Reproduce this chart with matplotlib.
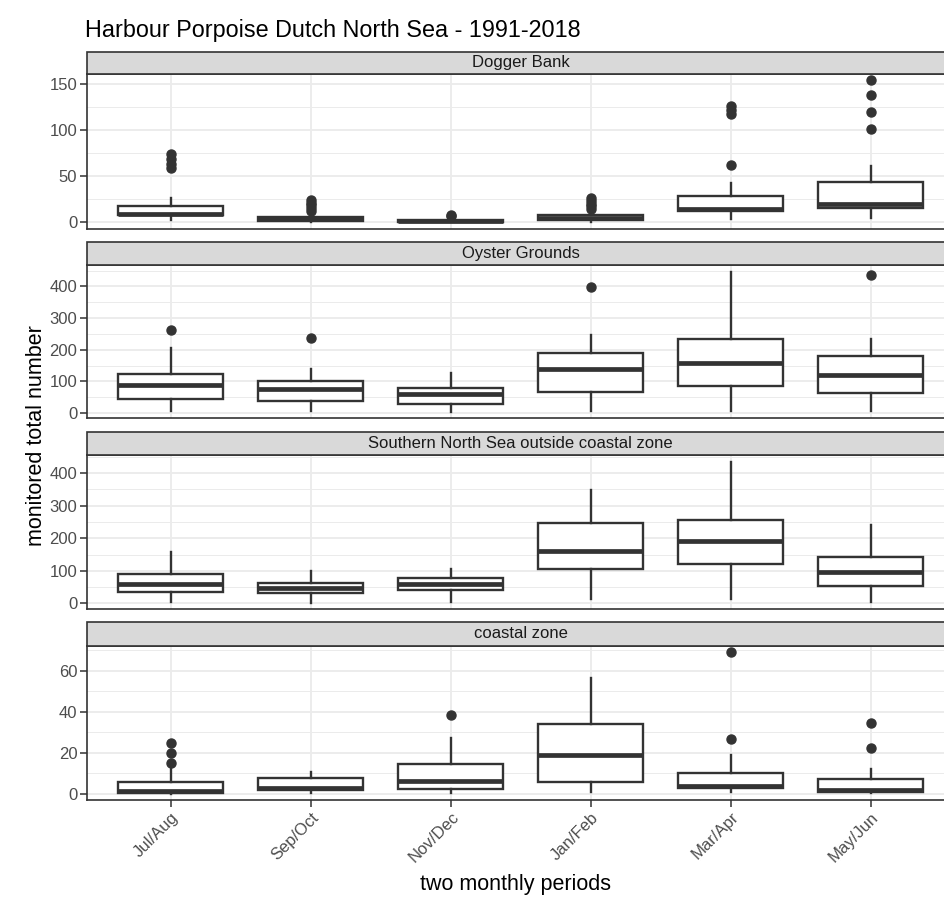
import matplotlib
matplotlib.use('Agg')
import matplotlib.pyplot as plt
from matplotlib.patches import Rectangle
from matplotlib.ticker import FixedLocator

plt.rcParams['font.family'] = ['Liberation Sans', 'DejaVu Sans']

periods = ['Jul/Aug', 'Sep/Oct', 'Nov/Dec', 'Jan/Feb', 'Mar/Apr', 'May/Jun']
regions = ['Dogger Bank', 'Oyster Grounds',
           'Southern North Sea outside coastal zone', 'coastal zone']

# Dogger Bank
dogger_q1 = [7, 1, 0, 2, 12, 15]
dogger_med = [9, 3, 1, 4, 14, 19]
dogger_q3 = [17, 5, 2, 7, 28, 43]
dogger_lo = [2, 0, 0, 0, 3, 4]
dogger_hi = [26, 10, 4, 11, 42, 61]
dogger_out = [[59, 63, 69, 74], [12, 15, 18, 21, 24], [6, 8],
              [14, 17, 20, 23, 26], [62, 118, 122, 126], [101, 120, 138, 154]]

# Oyster Grounds
oyster_q1 = [45, 38, 28, 66, 85, 64]
oyster_med = [89, 77, 60, 140, 157, 119]
oyster_q3 = [124, 101, 78, 191, 234, 180]
oyster_lo = [5, 5, 2, 7, 7, 7]
oyster_hi = [205, 139, 126, 247, 445, 235]
oyster_out = [[263], [238], [], [398], [], [436]]

# Southern North Sea outside coastal zone
south_q1 = [34, 32, 41, 107, 121, 53]
south_med = [58, 48, 60, 162, 193, 97]
south_q3 = [89, 63, 78, 246, 257, 142]
south_lo = [3, 2, 3, 12, 12, 5]
south_hi = [157, 100, 105, 347, 434, 241]
south_out = [[], [], [], [], [], []]

# coastal zone
coast_q1 = [0.3, 2, 2.3, 6, 2.8, 0.8]
coast_med = [1.5, 3, 6.5, 19, 3.9, 2]
coast_q3 = [5.7, 7.6, 14.4, 34.2, 10, 7.5]
coast_lo = [0, 0.5, 0.5, 0.8, 0.8, 0.3]
coast_hi = [12, 10.9, 27, 56.6, 19, 12]
coast_out = [[15.2, 19.8, 25], [], [38.3], [], [26.6, 69], [22.4, 34.7]]

panel_data = [
    (dogger_q1, dogger_med, dogger_q3, dogger_lo, dogger_hi, dogger_out),
    (oyster_q1, oyster_med, oyster_q3, oyster_lo, oyster_hi, oyster_out),
    (south_q1, south_med, south_q3, south_lo, south_hi, south_out),
    (coast_q1, coast_med, coast_q3, coast_lo, coast_hi, coast_out),
]
ylims = [(-7.7, 161), (-16, 468), (-17.5, 456), (-2.9, 72.2)]
major = [[0, 50, 100, 150], [0, 100, 200, 300, 400], [0, 100, 200, 300, 400], [0, 20, 40, 60]]
minor = [[25, 75, 125], [50, 150, 250, 350, 450], [50, 150, 250, 350, 450], [10, 30, 50, 70]]

W, H = 945, 899
fig = plt.figure(figsize=(W / 100, H / 100), dpi=100)

# (plot top, plot bottom, strip top) in pixels
geom = [(74, 229, 52), (265, 418, 241.5), (455, 609, 432), (645.5, 800, 622)]
left_px, right_px = 87, 945

dark = '#333333'
for i, (top, bot, stop) in enumerate(geom):
    ax = fig.add_axes([left_px / W, 1 - bot / H, (right_px - left_px) / W, (bot - top) / H])
    q1, med, q3, lo, hi, out = panel_data[i]
    stats = []
    for k in range(len(periods)):
        stats.append(dict(q1=q1[k], med=med[k], q3=q3[k], whislo=lo[k],
                          whishi=hi[k], fliers=out[k]))
    ax.bxp(stats, positions=range(1, len(periods) + 1), widths=0.75,
           showcaps=False, patch_artist=True,
           boxprops=dict(facecolor='white', edgecolor=dark, linewidth=1.7),
           medianprops=dict(color=dark, linewidth=3.4, solid_capstyle='butt'),
           whiskerprops=dict(color=dark, linewidth=1.7),
           flierprops=dict(marker='o', markerfacecolor=dark, markeredgecolor=dark,
                           markersize=6.5, linestyle='none'),
           zorder=3)
    ax.set_xlim(0.4, 6.53)
    ax.set_ylim(*ylims[i])
    ax.yaxis.set_major_locator(FixedLocator(major[i]))
    ax.yaxis.set_minor_locator(FixedLocator(minor[i]))
    ax.set_xticks(range(1, len(periods) + 1))
    ax.grid(True, which='major', color='#EBEBEB', linewidth=1.3, zorder=0)
    ax.grid(True, which='minor', axis='y', color='#EBEBEB', linewidth=0.7, zorder=0)
    ax.set_axisbelow(True)
    ax.tick_params(axis='y', which='minor', length=0)
    ax.tick_params(axis='both', which='major', length=5, width=1.1, color=dark,
                   labelsize=12, labelcolor='#4D4D4D', pad=2)
    for s in ax.spines.values():
        s.set_color(dark)
        s.set_linewidth(1.2)
    if i < 3:
        ax.tick_params(axis='x', which='major', length=0, labelbottom=False)
    else:
        ax.set_xticklabels(periods, rotation=45, ha='right', va='top',
                           rotation_mode='anchor')
        ax.set_xlabel('two monthly periods', fontsize=15.5, labelpad=6)
    # strip
    srect = Rectangle((left_px / W, 1 - top / H), (right_px - left_px) / W, (top - stop) / H,
                      transform=fig.transFigure, facecolor='#D9D9D9', edgecolor=dark,
                      linewidth=1.2, zorder=5)
    fig.patches.append(srect)
    fig.text((left_px + (870 + 84 - left_px) / 2) / W, 1 - (top + stop) / 2 / H, regions[i],
             ha='center', va='center', fontsize=12, color='#1A1A1A', zorder=10)

fig.text(37 / W, 1 - 436 / H, 'monitored total number', rotation=90, ha='center',
         va='center', fontsize=15.5)
fig.text(85 / W, 1 - 30 / H, 'Harbour Porpoise Dutch North Sea - 1991-2018',
         ha='left', va='center', fontsize=16.8)

fig.savefig('out.png', dpi=100)
